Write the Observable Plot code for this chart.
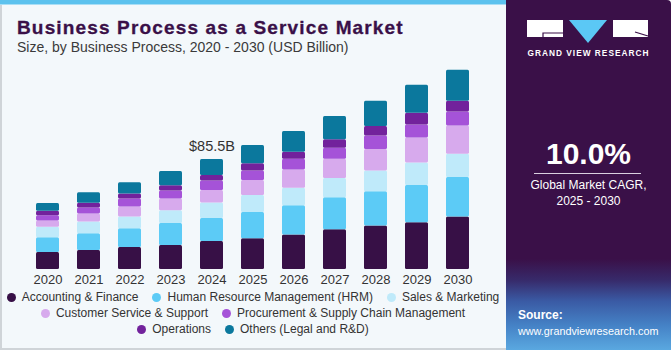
<!DOCTYPE html>
<html>
<head>
<meta charset="utf-8">
<script src="https://cdn.jsdelivr.net/npm/d3@7"></script>
<script src="https://cdn.jsdelivr.net/npm/@observablehq/plot@0.6"></script>
<style>
  html, body { margin: 0; padding: 0; }
  body { width: 671px; height: 350px; position: relative; overflow: hidden; font-family: "Liberation Sans", Arial, sans-serif; background: #fff; }
  #card { position: absolute; left: 0; top: 0; width: 506px; height: 350px; background: #f3f8fb; box-sizing: border-box; border-left: 2px solid #cfd4d8; border-bottom: 2px solid #cfd4d8; }
  #stripe { position: absolute; left: 0; top: 0; width: 506px; height: 4px; background: #5cc2ee; border-bottom: 1px solid #a9def5; }
  #title { position: absolute; left: 17px; top: 17px; font-size: 19px; font-weight: bold; color: #3a1048; letter-spacing: 1.15px; white-space: nowrap; -webkit-text-stroke: 0.3px #3a1048; }
  #subtitle { position: absolute; left: 17px; top: 39px; font-size: 14px; color: #3a3a3a; white-space: nowrap; }
  #chart { position: absolute; left: 0; top: 60px; }
  #legend { position: absolute; left: 0; top: 289px; width: 506px; font-size: 12px; color: #333; }
  .row { display: flex; justify-content: center; height: 16px; line-height: 16px; }
  .item { display: flex; align-items: center; margin: 0 7px; white-space: nowrap; }
  .dot { width: 9px; height: 9px; border-radius: 50%; margin-right: 6px; }
  #panel { position: absolute; left: 506px; top: 0; width: 165px; height: 350px; border-top-right-radius: 4px;
    background: linear-gradient(to bottom, #3a1048 0%, #3a1048 74%, #372a6a 80%, #3a5aa4 86%, #4582c6 93%, #5aa8e0 100%); }
  #panel .big { position: absolute; left: 0; width: 165px; top: 137px; text-align: center; color: #fff; font-size: 30px; font-weight: bold; }
  #panel .rule { position: absolute; left: 28px; width: 107px; top: 173px; height: 1px; background: #d9cfe0; }
  #panel .cagr { position: absolute; left: 0; width: 165px; top: 178px; text-align: center; color: #fff; font-size: 12px; line-height: 15.5px; }
  #panel .src { position: absolute; left: 12px; top: 307px; color: #fff; font-size: 10.8px; line-height: 16px; white-space: nowrap; }
  #panel .src b { font-size: 12px; }
</style>
</head>
<body>
<div id="card"></div>
<div id="stripe"></div>
<div id="title">Business Process as a Service Market</div>
<div id="subtitle">Size, by Business Process, 2020 - 2030 (USD Billion)</div>
<div id="chart"></div>
<div id="legend"></div>
<div id="panel">
  <svg width="165" height="60" style="position:absolute;left:0;top:0">
    <rect x="21" y="20" width="36" height="17" fill="#fff"/>
    <path d="M37 37 V33 H57" stroke="#3a1048" stroke-width="1.2" fill="none"/>
    <polygon points="63,20 101,20 82,43" fill="#5bc8f5"/>
    <rect x="107" y="20" width="35" height="17" fill="#fff"/>
    <path d="M129 32 L142 36" stroke="#3a1048" stroke-width="1.2"/>
    <text x="82" y="56" text-anchor="middle" fill="#fff" font-size="8.3" font-weight="bold" textLength="121" lengthAdjust="spacing">GRAND VIEW RESEARCH</text>
  </svg>
  <div class="big">10.0%</div>
  <div class="rule"></div>
  <div class="cagr">Global Market CAGR,<br>2025 - 2030</div>
  <div class="src"><b>Source:</b><br>www.grandviewresearch.com</div>
</div>
<script>
const years = [2020, 2021, 2022, 2023, 2024, 2025, 2026, 2027, 2028, 2029, 2030];
const segments = [
  "Accounting & Finance",
  "Human Resource Management (HRM)",
  "Sales & Marketing",
  "Customer Service & Support",
  "Procurement & Supply Chain Management",
  "Operations",
  "Others (Legal and R&D)"
];
const colors = ["#371046", "#5ccbf6", "#bfeafa", "#d7aaed", "#a553d8", "#72229c", "#0b789d"];
const accounting  = [13.2, 14.8, 17.1, 18.7, 21.8, 23.8, 26.7, 30.8, 33.7, 36.3, 40.7];
const hrm         = [11.4, 13.0, 14.5, 17.1, 17.9, 20.5, 22.8, 24.9, 26.7, 29.0, 30.8];
const sales       = [8.3, 9.1, 9.1, 9.8, 11.9, 13.2, 13.7, 15.0, 16.1, 17.4, 18.1];
const customer    = [4.7, 6.2, 7.8, 9.1, 9.8, 11.7, 14.0, 15.0, 16.8, 19.4, 21.8];
const procurement = [4.1, 4.7, 6.2, 6.2, 7.3, 7.3, 8.5, 8.5, 10.4, 10.1, 10.9];
const operations  = [3.6, 3.6, 3.9, 4.1, 4.4, 5.7, 5.4, 6.5, 7.3, 9.1, 8.3];
const others      = [6.0, 8.3, 8.8, 11.1, 12.4, 14.2, 16.1, 18.1, 19.7, 21.8, 24.1];
const annotatedYear = 2024;
const legendRows = [[0, 1, 2], [3, 4], [5, 6]];

const seriesValues = [accounting, hrm, sales, customer, procurement, operations, others];
const data = [];
segments.forEach((s, i) => years.forEach((y, j) => data.push({year: String(y), series: s, value: seriesValues[i][j]})));
const ai = years.indexOf(annotatedYear);
const total = d3.sum(seriesValues, v => v[ai]);
const labels = [{year: String(annotatedYear), total, text: "$" + total.toFixed(1) + "B"}];

const chart = Plot.plot({
  width: 505,
  height: 230,
  marginLeft: 13,
  marginRight: 12,
  marginTop: 3,
  marginBottom: 21,
  style: {background: "transparent", fontFamily: "'Liberation Sans', Arial, sans-serif", fontSize: "13px", color: "#333"},
  x: {domain: years.map(String), padding: 0.4286, tickSize: 0, tickPadding: 5, label: null},
  y: {domain: [0, 160], axis: null},
  color: {domain: segments, range: colors},
  marks: [
    Plot.barY(data, {x: "year", y: "value", fill: "series", order: segments, rx: 1.5}),
    Plot.text(labels, {x: "year", y: "total", text: "text", dy: -8, lineAnchor: "bottom", fontSize: 14.5, fill: "#333"})
  ]
});
document.getElementById("chart").appendChild(chart);

const legend = document.getElementById("legend");
legendRows.forEach(row => {
  const r = document.createElement("div");
  r.className = "row";
  row.forEach(i => {
    const it = document.createElement("div");
    it.className = "item";
    const dot = document.createElement("span");
    dot.className = "dot";
    dot.style.background = colors[i];
    const t = document.createElement("span");
    t.textContent = segments[i];
    it.appendChild(dot); it.appendChild(t);
    r.appendChild(it);
  });
  legend.appendChild(r);
});
</script>
</body>
</html>
